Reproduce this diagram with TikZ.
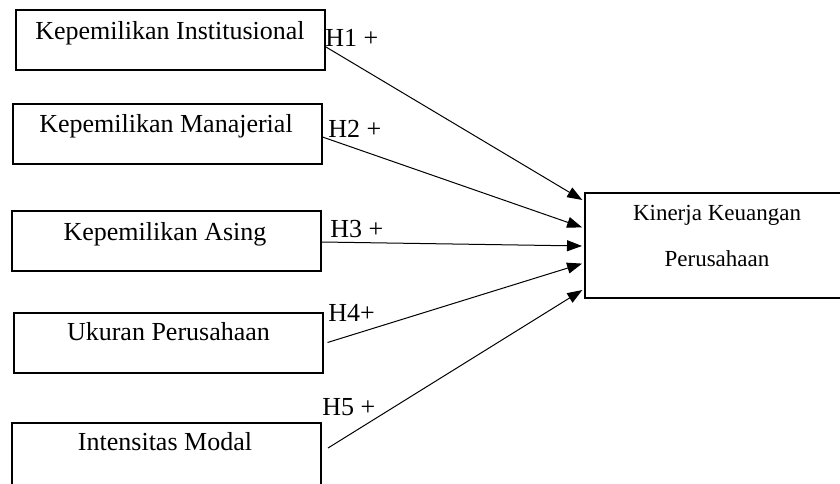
\documentclass[tikz,border=0pt]{standalone}
\usepackage{fontspec}
\setmainfont{Liberation Serif}
\usetikzlibrary{arrows.meta,calc}
\newcommand{\varTextSty}{\fontsize{13}{15}\selectfont}
\newcommand{\depTextSty}{\fontsize{11.5}{14}\selectfont}

\begin{document}
\begin{tikzpicture}[x=0.5pt,y=-0.5pt,
	varBox/.style={draw, line width=1pt, inner sep=0pt, minimum width=154.5pt, minimum height=30pt},
	varText/.style={inner sep=0pt, anchor=base, font=\varTextSty},
	hypArrow/.style={line width=0.5pt, -{Triangle[length=7.5pt,width=5.5pt]}, shorten >=1pt}]

		% page
		\useasboundingbox (0,0) rectangle (840,483);
		\clip (0,0) rectangle (840,483);

		% independent variables
		\node[varBox] (inst) at (170.5,40) {};
		\node[varText] (instText) at (170,39.5) {Kepemilikan Institusional};

		\node[varBox] (manj) at (167,133.5) {};
		\node[varText] (manjText) at (166,132.5) {Kepemilikan Manajerial};

		\node[varBox] (asing) at (166.5,240.5) {};
		\node[varText] (asingText) at (165,240) {Kepemilikan Asing};

		\node[varBox] (ukuran) at (168,342.5) {};
		\node[varText] (ukuranText) at (168.5,340.5) {Ukuran Perusahaan};

		\node[varBox, minimum height=32pt] (modal) at (166.5,455) {};
		\node[varText] (modalText) at (165,450.5) {Intensitas Modal};

		% dependent variable
		\node[varBox, minimum width=132pt, minimum height=52.5pt] (kinerja) at (717,245.5) {};
		\node[varText, font=\depTextSty] (kinerjaText1) at (717,220) {Kinerja Keuangan};
		\node[varText, font=\depTextSty] (kinerjaText2) at (717,266) {Perusahaan};

		% hypotheses
		\draw[hypArrow] ($(inst.east)+(0,7)$) -- ($(kinerja.west)+(0,-44.5)$);
		\draw[hypArrow] ($(manj.east)+(0,3.5)$) -- ($(kinerja.west)+(0,-17.5)$);
		\draw[hypArrow] ($(asing.east)+(0,1.5)$) -- ($(kinerja.west)+(0,0.5)$);
		\draw[hypArrow] ($(ukuran.east)+(4,0)$) -- ($(kinerja.west)+(0,17.5)$);
		\draw[hypArrow] ($(modal.east)+(6,-7)$) -- ($(kinerja.west)+(0,43.5)$);

		% hypothesis labels
		\node[varText, anchor=base west] (h1) at (325,46) {H1 +};
		\node[varText, anchor=base west] (h2) at (328,137) {H2 +};
		\node[varText, anchor=base west] (h3) at (330,237) {H3 +};
		\node[varText, anchor=base west] (h4) at (328,321) {H4+};
		\node[varText, anchor=base west] (h5) at (322,415) {H5 +};

\end{tikzpicture}
\end{document}
